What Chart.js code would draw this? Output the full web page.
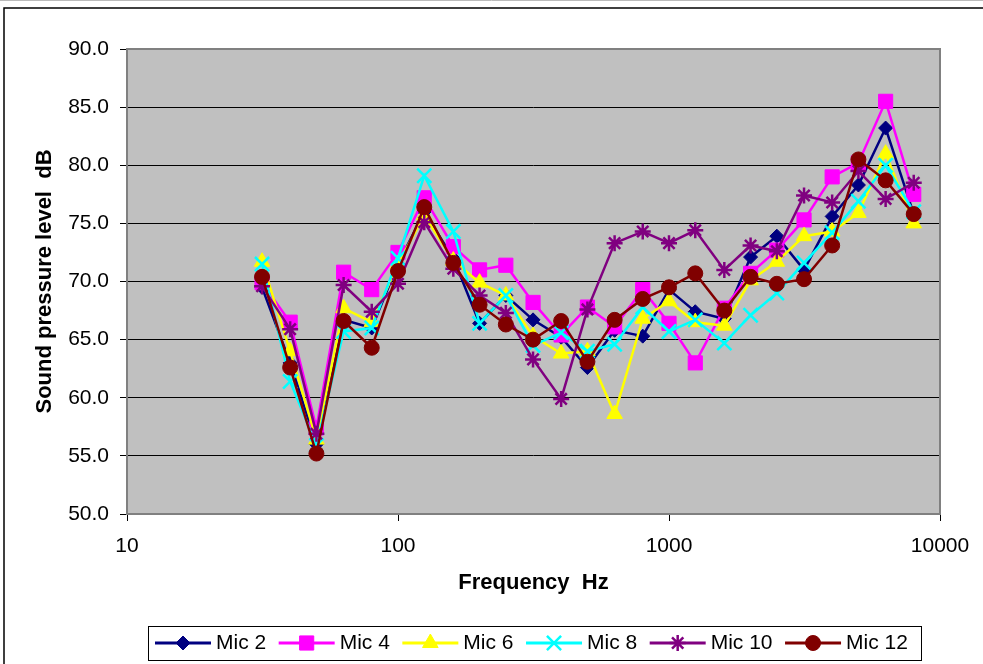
<!DOCTYPE html>
<html>
<head>
<meta charset="utf-8">
<script src="https://cdn.jsdelivr.net/npm/chart.js@4.4.1/dist/chart.umd.min.js"></script>
<style>
  html, body { margin: 0; padding: 0; background: #ffffff; }
  #wrap { position: relative; width: 983px; height: 664px; }
  canvas { display: block; }
</style>
</head>
<body>
<div id="wrap"><canvas id="c" width="983" height="664"></canvas></div>
<script>
// ---- Data ----
const frequencies = [31.5, 40, 50, 63, 80, 100, 125, 160, 200, 250, 315, 400, 500, 630, 800, 1000, 1250, 1600, 2000, 2500, 3150, 4000, 5000, 6300, 8000];
const mic2  = [69.5, 63.0, 56.0, 66.7, 66.0, 71.5, 76.0, 72.0, 66.4, 68.8, 66.7, 65.2, 62.6, 65.8, 65.3, 69.3, 67.4, 66.8, 72.1, 73.9, 71.0, 75.6, 78.3, 83.2, 75.8];
const mic4  = [69.9, 66.5, 57.4, 70.8, 69.3, 72.5, 77.2, 73.0, 71.0, 71.4, 68.2, 65.4, 67.8, 66.1, 69.3, 66.4, 63.0, 67.7, 70.7, 72.7, 75.3, 79.0, 80.2, 85.5, 77.5];
const mic6  = [71.7, 64.0, 56.4, 67.7, 66.5, 71.5, 75.7, 71.8, 69.9, 68.8, 65.3, 63.8, 64.0, 58.6, 66.8, 68.3, 66.5, 66.2, 70.1, 71.7, 73.9, 74.3, 75.9, 81.0, 75.0];
const mic8  = [71.5, 61.4, 55.9, 65.7, 66.0, 72.0, 79.1, 74.3, 66.4, 68.8, 64.5, 65.6, 64.0, 64.6, 67.8, 65.7, 66.7, 64.7, 67.1, 69.0, 71.6, 74.2, 76.9, 80.0, 76.0];
const mic10 = [69.6, 65.9, 56.9, 69.7, 67.4, 69.8, 75.1, 71.1, 68.8, 67.3, 63.3, 59.9, 67.6, 73.3, 74.3, 73.3, 74.4, 71.0, 73.1, 72.6, 77.4, 76.8, 79.5, 77.1, 78.5];
const mic12 = [70.4, 62.6, 55.2, 66.6, 64.3, 70.9, 76.4, 71.6, 68.0, 66.3, 65.0, 66.6, 63.1, 66.7, 68.5, 69.5, 70.7, 67.5, 70.4, 69.8, 70.2, 73.1, 80.5, 78.7, 75.8];
const seriesNames = ["Mic 2", "Mic 4", "Mic 6", "Mic 8", "Mic 10", "Mic 12"];
const xTickValues = [10, 100, 1000, 10000];
const yMin = 50, yMax = 90, yStep = 5;
const xTitle = "Frequency  Hz";
const yTitle = "Sound pressure level  dB";

// ---- Styles ----
const seriesValues = [mic2, mic4, mic6, mic8, mic10, mic12];
const styles = [
  { color: "#000080", point: "rectRot", r: 7, fill: true },
  { color: "#FF00FF", point: "rect", r: 10, fill: true },
  { color: "#FFFF00", point: "triangle", r: 9, fill: true },
  { color: "#00FFFF", point: "crossRot", r: 10, fill: false },
  { color: "#800080", point: "star", r: 8, fill: false },
  { color: "#800000", point: "circle", r: 7.5, fill: true }
];

const datasets = seriesNames.map((name, i) => ({
  label: name,
  data: frequencies.map((f, k) => ({ x: f, y: seriesValues[i][k] })),
  borderColor: styles[i].color,
  backgroundColor: styles[i].color,
  borderWidth: 2.5,
  pointStyle: styles[i].point,
  pointRadius: styles[i].r,
  pointBackgroundColor: styles[i].color,
  pointBorderColor: styles[i].color,
  pointBorderWidth: styles[i].fill ? 1 : 2.5,
  tension: 0,
  order: seriesNames.length - i
}));

const FONT = "'Liberation Sans', Arial, sans-serif";

function drawMarker(ctx, style, x, y) {
  const r = style.r;
  ctx.save();
  ctx.fillStyle = style.color;
  ctx.strokeStyle = style.color;
  ctx.lineWidth = style.fill ? 1 : 2.5;
  ctx.beginPath();
  if (style.point === "rectRot") {
    ctx.moveTo(x, y - r); ctx.lineTo(x + r, y); ctx.lineTo(x, y + r); ctx.lineTo(x - r, y); ctx.closePath();
    ctx.fill(); ctx.stroke();
  } else if (style.point === "rect") {
    const s = Math.SQRT1_2 * r;
    ctx.rect(x - s, y - s, 2 * s, 2 * s); ctx.fill(); ctx.stroke();
  } else if (style.point === "triangle") {
    for (let k = 0; k < 3; k++) {
      const a = k * 2 * Math.PI / 3;
      const px = x + Math.sin(a) * r, py = y - Math.cos(a) * r;
      if (k === 0) ctx.moveTo(px, py); else ctx.lineTo(px, py);
    }
    ctx.closePath(); ctx.fill(); ctx.stroke();
  } else if (style.point === "circle") {
    ctx.arc(x, y, r, 0, Math.PI * 2); ctx.fill(); ctx.stroke();
  } else if (style.point === "crossRot") {
    const o = Math.SQRT1_2 * r;
    ctx.moveTo(x - o, y - o); ctx.lineTo(x + o, y + o);
    ctx.moveTo(x - o, y + o); ctx.lineTo(x + o, y - o); ctx.stroke();
  } else if (style.point === "star") {
    const o = Math.SQRT1_2 * r;
    ctx.moveTo(x - r, y); ctx.lineTo(x + r, y);
    ctx.moveTo(x, y - r); ctx.lineTo(x, y + r);
    ctx.moveTo(x - o, y - o); ctx.lineTo(x + o, y + o);
    ctx.moveTo(x - o, y + o); ctx.lineTo(x + o, y - o); ctx.stroke();
  }
  ctx.restore();
}

const framePlugin = {
  id: "frame",
  beforeDraw(chart) {
    const ctx = chart.ctx, a = chart.chartArea;
    ctx.save();
    ctx.fillStyle = "#ffffff";
    ctx.fillRect(0, 0, chart.width, chart.height);
    // outer chart border
    ctx.strokeStyle = "#bbbbbb"; ctx.lineWidth = 1;
    ctx.beginPath(); ctx.moveTo(0, 0.5); ctx.lineTo(chart.width, 0.5); ctx.stroke();
    ctx.strokeStyle = "#000000"; ctx.lineWidth = 1.5;
    ctx.beginPath();
    ctx.moveTo(4, chart.height); ctx.lineTo(4, 8); ctx.lineTo(chart.width, 8);
    ctx.stroke();
    // plot background
    ctx.fillStyle = "#C0C0C0";
    ctx.fillRect(a.left, a.top, a.right - a.left, a.bottom - a.top);
    ctx.restore();
  },
  beforeDatasetsDraw(chart) {
    const ctx = chart.ctx, a = chart.chartArea;
    ctx.save();
    ctx.strokeStyle = "#808080"; ctx.lineWidth = 2;
    ctx.strokeRect(a.left, a.top, a.right - a.left, a.bottom - a.top);
    ctx.restore();
  },
  afterDraw(chart) {
    const ctx = chart.ctx;
    ctx.save();
    // legend box
    const bx = 148, by = 626, bw = 773, bh = 34;
    ctx.fillStyle = "#ffffff";
    ctx.fillRect(bx, by, bw, bh);
    ctx.strokeStyle = "#000000"; ctx.lineWidth = 1;
    ctx.strokeRect(bx + 0.5, by + 0.5, bw, bh);
    ctx.font = "21px " + FONT;
    ctx.textBaseline = "middle";
    ctx.textAlign = "left";
    const cy = 643;
    let x = 155;
    seriesNames.forEach((name, i) => {
      const st = styles[i];
      ctx.strokeStyle = st.color; ctx.lineWidth = 3;
      ctx.beginPath(); ctx.moveTo(x, cy); ctx.lineTo(x + 56, cy); ctx.stroke();
      drawMarker(ctx, st, x + 28, cy);
      ctx.fillStyle = "#000000";
      ctx.fillText(name, x + 61, cy);
      x = x + 61 + ctx.measureText(name).width + 12.5;
    });
    ctx.restore();
  }
};

new Chart(document.getElementById("c"), {
  type: "line",
  data: { datasets },
  plugins: [framePlugin],
  options: {
    responsive: false,
    animation: false,
    events: [],
    layout: { padding: { left: 0, top: 49, right: 43, bottom: 60 } },
    plugins: { legend: { display: false }, tooltip: { enabled: false } },
    scales: {
      x: {
        type: "logarithmic",
        min: 10, max: 10000,
        afterBuildTicks(scale) { scale.ticks = xTickValues.map(v => ({ value: v, major: true })); },
        afterFit(scale) { scale.height = 90; },
        border: { display: false },
        grid: { drawOnChartArea: false, drawTicks: true, tickLength: 7, color: "#000000", lineWidth: 1 },
        ticks: {
          autoSkip: false, maxRotation: 0, padding: 13, color: "#000000",
          font: { family: FONT, size: 21 },
          callback: (v) => String(v)
        },
        title: { display: true, text: xTitle, color: "#000000", padding: { top: 0, bottom: 8 },
          font: { family: FONT, size: 22, weight: "bold" } }
      },
      y: {
        min: yMin, max: yMax,
        afterFit(scale) { scale.width = 127; },
        border: { display: false },
        grid: { drawOnChartArea: true, drawTicks: true, tickLength: 7, color: "#000000", lineWidth: 1 },
        ticks: {
          stepSize: yStep, padding: 11, color: "#000000",
          font: { family: FONT, size: 21 },
          callback: (v) => Number(v).toFixed(1)
        },
        title: { display: true, text: yTitle, color: "#000000", padding: { top: 32, bottom: 0 },
          font: { family: FONT, size: 22, weight: "bold" } }
      }
    }
  }
});
</script>
</body>
</html>
